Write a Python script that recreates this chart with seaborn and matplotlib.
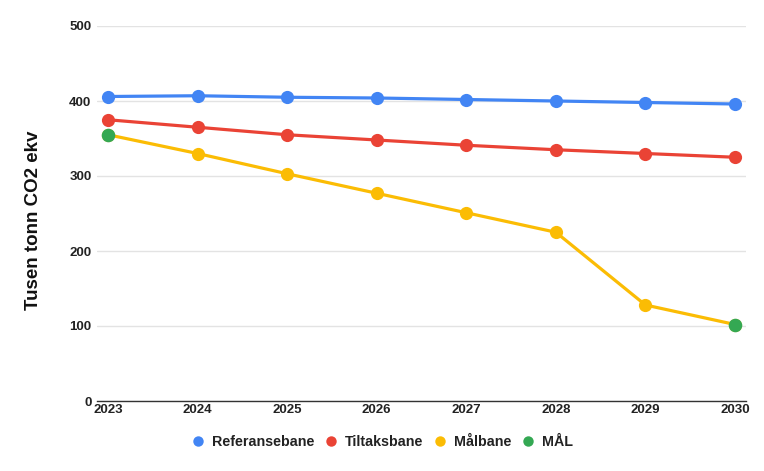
import matplotlib
matplotlib.use("Agg")
import matplotlib.pyplot as plt
from matplotlib.lines import Line2D
import seaborn as sns
import pandas as pd

years = [2023, 2024, 2025, 2026, 2027, 2028, 2029, 2030]
referansebane = [406, 407, 405, 404, 402, 400, 398, 396]
tiltaksbane = [375, 365, 355, 348, 341, 335, 330, 325]
malbane = [355, 330, 303, 277, 251, 225, 128, 102]
mal_years = [2023, 2030]
mal_values = [355, 102]

series_names = ["Referansebane", "Tiltaksbane", "Målbane", "MÅL"]
colors = ["#4285F4", "#EA4335", "#FBBC04", "#34A853"]
y_ticks = [0, 100, 200, 300, 400, 500]

sns.set_theme(style="white")
plt.rcParams["font.family"] = ["Liberation Sans", "DejaVu Sans"]

df = pd.DataFrame({
    "year": years * 3,
    "value": referansebane + tiltaksbane + malbane,
    "series": [series_names[0]] * 8 + [series_names[1]] * 8 + [series_names[2]] * 8,
})
df_mal = pd.DataFrame({"year": mal_years, "value": mal_values, "series": "MÅL"})

fig = plt.figure(figsize=(7.64, 4.71), dpi=100)
ax = fig.add_axes([97 / 764, 1 - 401 / 471, (746 - 97) / 764, (401 - 26) / 471])

sns.lineplot(data=df, x="year", y="value", hue="series",
             palette=dict(zip(series_names[:3], colors[:3])),
             marker="o", markersize=9.5, markeredgewidth=0, linewidth=2.3,
             legend=False, ax=ax, zorder=3)
sns.scatterplot(data=df_mal, x="year", y="value", color=colors[3], s=95,
                linewidth=0, legend=False, ax=ax, zorder=4)

ax.set_xlim(2023 - 0.123, 2030 + 0.123)
ax.set_ylim(0, 500)
ax.set_yticks(y_ticks)
ax.set_xticks(years)
ax.set_xticklabels([str(y) for y in years])
ax.yaxis.grid(True, color="#e3e3e3", linewidth=1)
ax.set_axisbelow(True)
for s in ["top", "right", "left"]:
    ax.spines[s].set_visible(False)
ax.spines["bottom"].set_color("#333333")
ax.spines["bottom"].set_linewidth(1)
ax.tick_params(axis="both", length=0, labelsize=9.5, colors="#222222")
ax.tick_params(axis="y", pad=4)
ax.tick_params(axis="x", pad=2)
for lbl in ax.get_yticklabels() + ax.get_xticklabels():
    lbl.set_fontweight("bold")
    lbl.set_color("#222222")
ax.set_xlabel("")
ax.set_ylabel("Tusen tonn CO2 ekv", fontsize=13.5, fontweight="bold", color="#111111")
ax.yaxis.set_label_coords(-0.085, 0.483)

handles = [Line2D([0], [0], marker="o", linestyle="none", markersize=7.5,
                  markerfacecolor=c, markeredgewidth=0) for c in colors]
leg = fig.legend(handles, series_names, loc="center", bbox_to_anchor=(382 / 764, 1 - 442 / 471),
                 ncol=4, frameon=False, handlelength=1.0, handletextpad=0.45,
                 columnspacing=0.7, prop={"weight": "bold", "size": 10.3})
for t in leg.get_texts():
    t.set_color("#222222")

fig.savefig("out.png", dpi=100)
